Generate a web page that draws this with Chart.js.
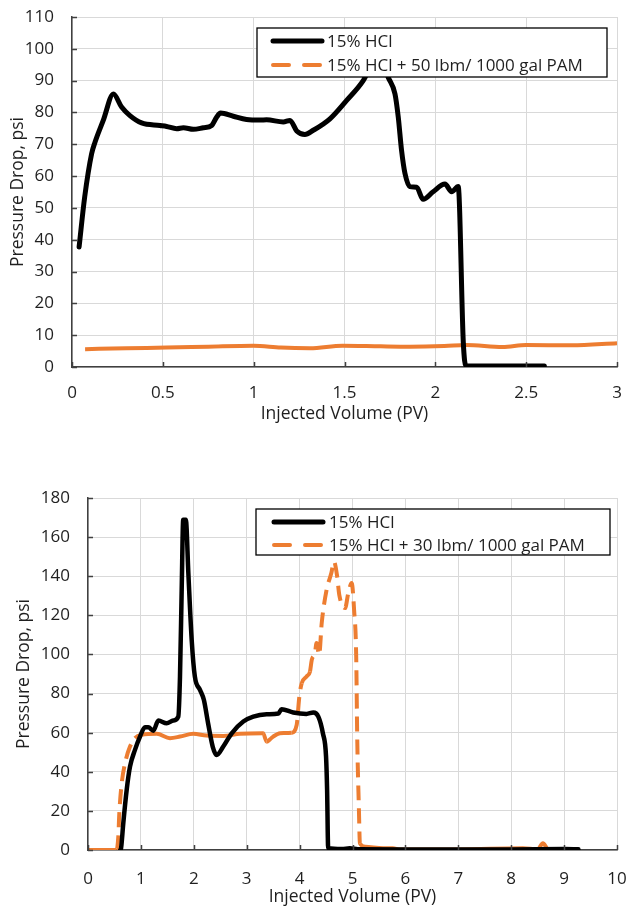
<!DOCTYPE html>
<html><head><meta charset="utf-8">
<script src="https://cdn.jsdelivr.net/npm/chart.js@4.4.1/dist/chart.umd.min.js"></script>
<style>
html,body{margin:0;padding:0;background:#fff;width:629px;height:908px;overflow:hidden;}
#w1{position:absolute;left:0;top:0;width:629px;height:430px;}
#w2{position:absolute;left:0;top:454px;width:629px;height:454px;}
</style></head><body>
<div id="w1"><canvas id="c1"></canvas></div>
<div id="w2"><canvas id="c2"></canvas></div>
<script>
// ---------- DATA ----------
const seriesLabels1 = ['15% HCl', '15% HCl + 50 lbm/ 1000 gal PAM'];
const seriesLabels2 = ['15% HCl', '15% HCl + 30 lbm/ 1000 gal PAM'];
const xTitle = 'Injected Volume (PV)';
const yTitle = 'Pressure Drop, psi';

const topHclX = [0.039,0.07,0.108,0.127,0.172,0.228,0.273,0.319,0.383,0.484,0.521,0.576,0.613,0.668,0.723,0.769,0.796,0.818,0.888,0.961,1.035,1.071,1.163,1.2,1.237,1.282,1.328,1.42,1.512,1.603,1.65,1.70,1.741,1.778,1.796,1.814,1.833,1.86,1.897,1.933,1.988,2.053,2.09,2.126,2.154,2.168,2.3,2.45,2.6];
const topHclY = [37.7,53.5,67,70.7,77.5,85.8,81.7,79,76.7,75.9,75.6,74.9,75.2,74.7,75.2,75.9,78.5,79.8,78.8,77.8,77.6,77.7,77,77.5,74.2,73.1,74.4,78,83.8,90,95,96.5,91,85.8,78.5,68.1,60.8,56.7,56.5,52.7,55.1,57.5,55.1,56.7,7.7,0.4,0.3,0.3,0.3];
const topPamX = [0.072,0.3,0.52,0.75,0.998,1.15,1.31,1.49,1.7,1.86,2.05,2.17,2.37,2.5,2.75,3.0];
const topPamY = [5.6,5.9,6.1,6.4,6.7,6.1,5.9,6.7,6.5,6.4,6.6,6.9,6.3,6.9,6.8,7.5];

const botHclX = [0.61,0.625,0.667,0.731,0.794,0.888,0.983,1.077,1.14,1.235,1.33,1.487,1.613,1.707,1.739,1.771,1.8,1.85,1.897,1.96,2.02,2.117,2.19,2.27,2.357,2.43,2.557,2.716,2.936,3.125,3.378,3.6,3.66,3.88,4.13,4.26,4.354,4.44,4.5,4.52,4.54,4.8,4.95,5.1,6,7,8,9,9.27];
const botHclY = [0,0.9,13.7,30.7,42.6,51.2,58,62.8,62.8,61,66.2,64.8,66.2,68.2,88.7,133,168.9,168.9,141.6,107.5,88.7,81.9,76.8,64.8,52.9,48.6,52.9,59.7,65.7,68.2,69.4,69.8,72,70.3,69.6,70.3,68.2,59.7,47.7,30.7,0.9,0.5,0.9,0.4,0.3,0.3,0.3,0.5,0.4];
const botPamX = [0,0.3,0.54,0.573,0.592,0.637,0.7,0.794,0.888,1.015,1.3,1.55,1.74,1.99,2.24,2.56,2.87,3.31,3.378,3.44,3.5,3.63,3.85,3.945,3.995,4.04,4.13,4.197,4.23,4.29,4.32,4.37,4.418,4.51,4.6,4.65,4.71,4.75,4.86,4.92,4.985,5.03,5.07,5.09,5.12,5.14,5.24,5.58,5.76,5.9,7,8.22,8.5,8.6,8.7,8.86];
const botPamY = [0,0,0,6.8,18.8,34.1,44.4,52.9,57.2,58.9,59.4,57.2,58,59.4,58.5,58.3,59.4,59.7,55.4,56.6,58,59.7,60,64,78.5,85.3,88.7,91.3,97.2,100.7,105.8,99.8,116,133,141.6,147.5,139.9,130.5,123.7,131.4,136.5,122.8,98.9,56.3,22.2,3.4,1.7,0.9,0.9,0.3,0.3,0.9,0.3,3.5,0.3,0.3];

// ---------- STYLE ----------
const BLACK = '#000000';
const ORANGE = '#ED7D31';
const GRID = '#d9d9d9';
const AXIS = '#404040';
const TEXT = '#1f1f1f';
const FONT = 'Open Sans';

const pts = (xs, ys) => xs.map((x, i) => ({x, y: ys[i]}));

const innerTicks = {
  id: 'innerTicks',
  afterDatasetsDraw(chart) {
    const {ctx, chartArea: a, scales: {x, y}} = chart;
    ctx.save();
    ctx.strokeStyle = AXIS;
    ctx.lineWidth = 1.5;
    ctx.beginPath();
    x.ticks.forEach(t => { const p = Math.round(x.getPixelForValue(t.value)) + 0.5; ctx.moveTo(p, a.bottom); ctx.lineTo(p, a.bottom - 5); });
    y.ticks.forEach(t => { const p = Math.round(y.getPixelForValue(t.value)) + 0.5; ctx.moveTo(a.left, p); ctx.lineTo(a.left + 5, p); });
    ctx.stroke();
    ctx.restore();
  }
};

const boxLegend = {
  id: 'boxLegend',
  afterDraw(chart, args, o) {
    const {ctx, chartArea: a} = chart;
    const left = a.left + o.dx, top = a.top + o.dy;
    ctx.save();
    ctx.fillStyle = '#fff';
    ctx.fillRect(left, top, o.w, o.h);
    ctx.strokeStyle = '#000';
    ctx.lineWidth = 1.3;
    ctx.strokeRect(left, top, o.w, o.h);
    ctx.font = o.fontSize + 'px ' + FONT;
    ctx.textBaseline = 'middle';
    ctx.textAlign = 'left';
    chart.data.datasets.forEach((ds, i) => {
      const yy = top + o.row0 + i * o.rowGap;
      ctx.beginPath();
      ctx.strokeStyle = ds.borderColor;
      ctx.lineWidth = ds.legendWidth;
      ctx.lineCap = 'round';
      ctx.setLineDash(ds.legendDash || []);
      ctx.moveTo(left + o.lx0, yy);
      ctx.lineTo(left + o.lx1, yy);
      ctx.stroke();
      ctx.setLineDash([]);
      ctx.fillStyle = TEXT;
      ctx.fillText(ds.label, left + o.tx, yy + 1);
    });
    ctx.restore();
  }
};

function makeChart(id, cfg) {
  const dashSteep = (c) => {
    const dx = Math.abs(c.p1.x - c.p0.x), dy = Math.abs(c.p1.y - c.p0.y);
    return dy > 1.5 * dx ? [15, 8] : undefined;
  };
  return new Chart(document.getElementById(id), {
    type: 'line',
    data: {
      datasets: [
        { label: cfg.labels[0], data: pts(cfg.hx, cfg.hy), borderColor: BLACK, borderWidth: cfg.bw, legendWidth: 5,
          pointRadius: 0, cubicInterpolationMode: 'monotone', borderCapStyle: 'round', borderJoinStyle: 'round' },
        { label: cfg.labels[1], data: pts(cfg.px, cfg.py), borderColor: ORANGE, borderWidth: cfg.ow, legendWidth: 4,
          legendDash: [16, 15],
          pointRadius: 0, cubicInterpolationMode: 'monotone', borderCapStyle: 'butt', borderJoinStyle: 'round',
          segment: cfg.dashed ? { borderDash: dashSteep } : undefined }
      ]
    },
    options: {
      responsive: true, maintainAspectRatio: false, animation: false,
      layout: { padding: { top: cfg.padTop, right: 12, left: 0, bottom: 0 } },
      plugins: { legend: { display: false }, tooltip: { enabled: false }, boxLegend: cfg.legend },
      scales: {
        x: {
          type: 'linear', min: 0, max: cfg.xmax,
          ticks: { stepSize: cfg.xstep, color: TEXT, font: { family: FONT, size: 17 }, padding: cfg.xTickPad, maxRotation: 0,
                   callback: v => String(Math.round(v * 100) / 100) },
          grid: { color: GRID, lineWidth: 1, drawTicks: false },
          border: { display: true, color: AXIS, width: 1.5 },
          title: { display: true, text: xTitle, color: TEXT, font: { family: FONT, size: 17.5 }, padding: { top: 0, bottom: cfg.xTitlePad } },
          afterFit: s => { s.height = cfg.xh; s.paddingLeft = 0; s.paddingRight = 0; }
        },
        y: {
          min: 0, max: cfg.ymax,
          ticks: { stepSize: cfg.ystep, color: TEXT, font: { family: FONT, size: 17 }, padding: 18 },
          grid: { color: GRID, lineWidth: 1, drawTicks: false },
          border: { display: true, color: AXIS, width: 1.5 },
          title: { display: true, text: yTitle, color: TEXT, font: { family: FONT, size: 17.5 }, padding: { top: cfg.yTitlePad, bottom: 0 } },
          afterFit: s => { s.width = cfg.yw; s.paddingTop = 0; s.paddingBottom = 0; }
        }
      }
    },
    plugins: [innerTicks, boxLegend]
  });
}

makeChart('c1', {
  labels: seriesLabels1, hx: topHclX, hy: topHclY, px: topPamX, py: topPamY,
  bw: 5, ow: 4, dashed: false,
  xmax: 3, xstep: 0.5, ymax: 110, ystep: 10,
  padTop: 17, xh: 63, yw: 72, xTickPad: 16, xTitlePad: 5, yTitlePad: 8,
  legend: { dx: 185, dy: 11, w: 350, h: 49, row0: 13, rowGap: 24, lx0: 16, lx1: 65, tx: 70, fontSize: 17 }
});
makeChart('c2', {
  labels: seriesLabels2, hx: botHclX, hy: botHclY, px: botPamX, py: botPamY,
  bw: 4.5, ow: 4, dashed: true,
  xmax: 10, xstep: 1, ymax: 180, ystep: 20,
  padTop: 44, xh: 58, yw: 88, xTickPad: 19, xTitlePad: 0, yTitlePad: 14,
  legend: { dx: 168, dy: 11, w: 354, h: 46, row0: 13, rowGap: 23, lx0: 18, lx1: 67, tx: 73, fontSize: 17 }
});
</script>
</body></html>
